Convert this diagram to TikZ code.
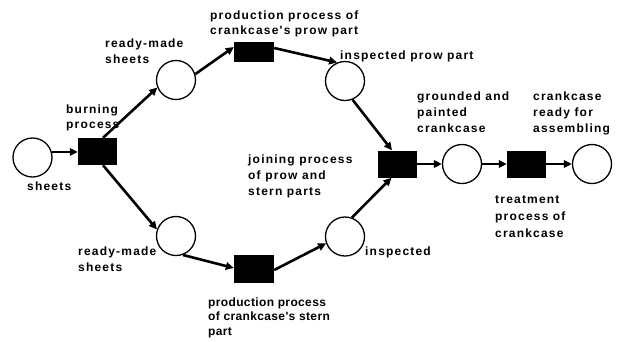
\documentclass[tikz,border=0pt]{standalone}
\usepackage{fontspec}
\setmainfont{Liberation Sans}
\newfontfamily\labfont[LetterSpace=10]{Liberation Sans Bold}
\newfontfamily\labfontn[LetterSpace=3]{Liberation Sans Bold}
\usetikzlibrary{calc,arrows.meta}
\begin{document}
\begin{tikzpicture}[x=1pt,y=-1pt,
  place/.style={circle,draw,line width=1.3pt,minimum size=39pt,inner sep=0},
  trans/.style={rectangle,fill=black,minimum width=39pt,minimum height=27pt,inner sep=0},
  arc/.style={line width=2.6pt,-{Triangle[length=8pt,width=7.5pt]}},
  lab/.style={font=\labfont\fontsize{12}{16}\selectfont,align=left,inner sep=0,anchor=base west}
]
\useasboundingbox (0,0) rectangle (618,341);
% places
\node[place] (sheets) at (32.5,157.5) {};
\node[place] (rtop) at (176,80) {};
\node[place] (rbot) at (176,236) {};
\node[place] (iprow) at (345,81) {};
\node[place] (istern) at (345,236.5) {};
\node[place] (ground) at (462,164) {};
\node[place] (ready) at (592,164) {};
% transitions
\node[trans] (burn) at (97.5,151.5) {};
\node[trans,minimum width=40pt,minimum height=20pt] (tprow) at (254,52) {};
\node[trans,minimum width=40pt,minimum height=28pt] (tstern) at (254,269) {};
\node[trans] (join) at (397.5,164) {};
\node[trans] (treat) at (526.5,164) {};
% arcs
\draw[arc] (sheets.16) -- (sheets.16 -| burn.west);
\draw[arc] ($(burn.north)+(5.5,0)$) -- (rtop.202);
\draw[arc] ($(burn.south)+(5.5,0)$) -- (rbot.161);
\draw[arc] (rtop.17) -- ($(tprow.west)+(0,-5)$);
\draw[arc] ($(tprow.east)+(0,-4)$) -- (iprow.113);
\draw[arc] (rbot.-70) -- ($(tstern.west)+(0,-1)$);
\draw[arc] ($(tstern.east)+(0,1)$) -- (istern.200);
\draw[arc] (iprow.-68) -- ($(join.north)+(-5.5,0)$);
\draw[arc] (istern.70) -- ($(join.south)+(-6,0)$);
\draw[arc] (join.east) -- (ground.west);
\draw[arc] (ground.east) -- (treat.west);
\draw[arc] (treat.east) -- (ready.west);
% labels (anchor = baseline of the last line)
\node[lab,font=\labfont\fontsize{12}{15}\selectfont] (lprow) at (210,34) {production process of\\crankcase's prow part};
\node[lab] (lrtop) at (105,63) {ready-made\\sheets};
\node[lab,font=\labfont\fontsize{12}{15.5}\selectfont] (lburn) at (66,128.5) {burning\\process};
\node[lab] (lsheets) at (27,190) {sheets};
\node[lab] (liprow) at (340,59) {inspected prow part};
\node[lab] (lground) at (417,132) {grounded and\\painted\\crankcase};
\node[lab] (lready) at (533,132) {crankcase\\ready for\\assembling};
\node[lab] (ljoin) at (248,195) {joining process\\of prow and\\stern parts};
\node[lab,font=\labfont\fontsize{12}{16.5}\selectfont] (lrbot) at (78,271.5) {ready-made\\sheets};
\node[lab,font=\labfontn\fontsize{12}{14.5}\selectfont] (lstern) at (208,335) {production process\\of crankcase's stern\\part};
\node[lab] (listern) at (365,255) {inspected};
\node[lab,font=\labfont\fontsize{12}{17}\selectfont] (ltreat) at (495,237) {treatment\\process of\\crankcase};
\end{tikzpicture}
\end{document}
